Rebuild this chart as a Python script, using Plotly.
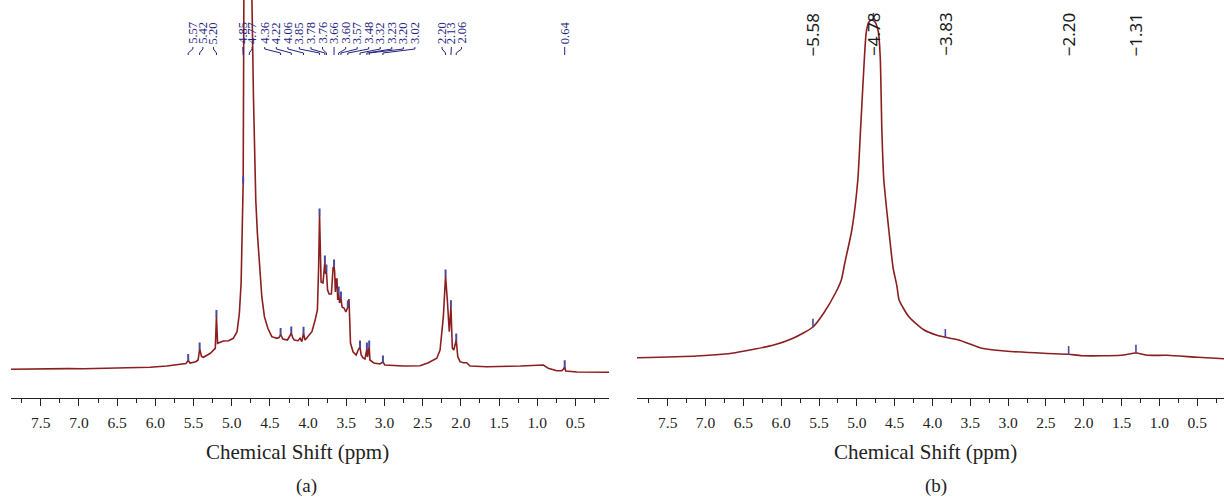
import numpy as np
import plotly.graph_objects as go

# ---------------- data: panel (a) ----------------
A_PPM = [7.89, 7.60, 7.38, 7.29, 7.15, 6.94, 6.50, 6.07, 5.85, 5.68, 5.60, 5.57, 5.545, 5.47, 5.44,
         5.42, 5.395, 5.37, 5.28, 5.215, 5.20, 5.185, 5.11, 5.04, 4.98, 4.93, 4.90, 4.877, 4.862,
         4.85, 4.84, 4.81, 4.79, 4.77, 4.74, 4.715, 4.70, 4.685, 4.664, 4.638, 4.606, 4.572, 4.527,
         4.475, 4.41, 4.38, 4.36, 4.33, 4.27, 4.24, 4.22, 4.20, 4.18, 4.13, 4.105, 4.082, 4.06, 4.04,
         4.00, 3.95, 3.908, 3.878, 3.862, 3.85, 3.840, 3.830, 3.805, 3.78, 3.770, 3.76, 3.745, 3.725,
         3.695, 3.672, 3.666, 3.66, 3.652, 3.643, 3.632, 3.622, 3.612, 3.60, 3.588, 3.57, 3.555,
         3.53, 3.505, 3.48, 3.472, 3.465, 3.455, 3.445, 3.41, 3.37, 3.345, 3.32, 3.305, 3.28, 3.255,
         3.23, 3.222, 3.20, 3.19, 3.14, 3.06, 3.02, 2.995, 2.75, 2.534, 2.425, 2.315, 2.272, 2.229,
         2.20, 2.177, 2.151, 2.13, 2.111, 2.092, 2.06, 2.04, 2.01, 1.967, 1.923, 1.88, 1.66, 1.22,
         0.92, 0.855, 0.745, 0.679, 0.655, 0.64, 0.627, 0.48, 0.06]
A_INT = [28.7, 29.0, 29.3, 30.0, 29.4, 29.3, 29.7, 30.7, 32.0, 33.7, 34.5, 37.5, 35.0, 36.3, 38.0,
         49.0, 41.5, 40.7, 44.7, 49.7, 81.5, 54.7, 57.0, 57.3, 59.7, 66.3, 84.7, 114.7, 164.7,
         215, 420, 520, 500, 520, 420, 300, 230, 198, 164.7, 131.3, 101.3, 81.3, 69.7,
         61.3, 59.7, 60.5, 63.5, 59.0, 58.0, 62.0, 65.0, 60.0, 58.0, 57.3, 59.7, 56.3, 64.7, 58.0,
         61.3, 66.3, 78, 88, 131, 183, 150, 116, 115, 136, 124, 127, 108, 104,
         104, 131, 128, 132, 126, 106, 119, 119, 98, 105, 95, 100, 91,
         90, 86, 91, 99, 99, 78, 55, 46, 43, 48, 51, 43, 40, 39,
         49, 41, 51, 38, 35, 34, 36, 33, 32, 32.3, 35.3, 39.7, 48, 81.3,
         122, 98, 66.3, 91.3, 49.7, 48, 58, 41.3, 36.3, 35.3, 35.3, 32, 31.3, 32,
         33, 29.7, 27.3, 27.3, 29, 31.3, 27, 26, 25.7]
A_PEAKS = [5.57, 5.42, 5.20, 4.85, 4.77, 4.36, 4.22, 4.06, 3.85, 3.78, 3.76, 3.66, 3.60, 3.57,
           3.48, 3.32, 3.23, 3.20, 3.02, 2.20, 2.13, 2.06, 0.64]

# ---------------- data: panel (b) ----------------
B_PPM = [7.906, 7.116, 6.606, 6.098, 5.843, 5.58, 5.437, 5.282, 5.205, 5.159, 5.066, 4.987, 4.951,
         4.90, 4.875, 4.84, 4.80, 4.76, 4.715, 4.69, 4.669, 4.643, 4.577, 4.52, 4.47, 4.441, 4.312,
         4.11, 3.95, 3.83, 3.651, 3.347, 3.042, 2.53, 2.20, 2.024, 1.51, 1.31, 1.155, 0.90, 0.492, 0.146]
B_INT = [40.3, 42.0, 45.3, 53.0, 59.7, 71.0, 85.0, 105.0, 118.0, 135.0, 168.0, 218.0, 268.0,
         340.0, 366.0, 376.0, 378.0, 376.0, 366.0, 340.0, 268.0, 218.0, 168.0, 130.0, 112.0, 98.0, 81.3,
         68.0, 63.0, 60.7, 58.0, 49.7, 47.0, 44.7, 43.7, 42.3, 42.7, 45.0, 42.7, 42.7, 40.7, 39.3]
B_PEAKS = [5.58, 4.78, 3.83, 2.20, 1.31]

# ---------------- layout helpers (label placement, not data) ----------------
A_LABEL_POS = [5.509, 5.378, 5.239, 4.855, 4.733] + [3.66 + (6 - i) * 0.1512 for i in range(14)] \
              + [2.246, 2.124, 1.991, 0.64]

RED = "#8b1f1f"
NAVY = "#23237e"
AX = "#222222"
H_TOP = 398

fig = go.Figure()

# spectra
fig.add_trace(go.Scatter(x=A_PPM, y=A_INT, mode="lines", line=dict(color=RED, width=1.6),
                         xaxis="x", yaxis="y", showlegend=False, hoverinfo="skip"))
fig.add_trace(go.Scatter(x=B_PPM, y=B_INT, mode="lines",
                         line=dict(color=RED, width=1.6, shape="spline", smoothing=0.6),
                         xaxis="x2", yaxis="y2", showlegend=False, hoverinfo="skip"))

# peak-pick markers
a_asc_x, a_asc_y = A_PPM[::-1], A_INT[::-1]
b_asc_x, b_asc_y = B_PPM[::-1], B_INT[::-1]
a_mark_y = [float(np.interp(p, a_asc_x, a_asc_y)) + 3 for p in A_PEAKS]
b_mark_y = [float(np.interp(p, b_asc_x, b_asc_y)) + 4 for p in B_PEAKS]
fig.add_trace(go.Scatter(x=A_PEAKS, y=a_mark_y, mode="markers",
                         marker=dict(symbol="line-ns", size=5, line=dict(width=2, color="#4a4aa0")),
                         xaxis="x", yaxis="y", showlegend=False, hoverinfo="skip"))
fig.add_trace(go.Scatter(x=B_PEAKS, y=b_mark_y, mode="markers",
                         marker=dict(symbol="line-ns", size=6, line=dict(width=1.6, color="#4a4aa0")),
                         xaxis="x2", yaxis="y2", showlegend=False, hoverinfo="skip"))

# connectors for panel (a) labels
cx, cy = [], []
for lp, pk in zip(A_LABEL_POS, A_PEAKS):
    cx += [lp, lp, pk, pk, None]
    cy += [H_TOP - 47, H_TOP - 49, H_TOP - 53, H_TOP - 55, None]
fig.add_trace(go.Scatter(x=cx, y=cy, mode="lines", line=dict(color=NAVY, width=1),
                         xaxis="x", yaxis="y", showlegend=False, hoverinfo="skip", cliponaxis=False))

annotations = []
for lp, pk in zip(A_LABEL_POS, A_PEAKS):
    annotations.append(dict(x=lp, y=H_TOP - 46, xref="x", yref="y", text=f"{pk:.2f}",
                            textangle=-90, showarrow=False, xanchor="center", yanchor="bottom",
                            font=dict(family="Liberation Serif", size=12.5, color=NAVY)))
for pk in B_PEAKS:
    annotations.append(dict(x=pk, y=H_TOP - 58, xref="x2", yref="y2", text=f"\u2212{pk:.2f}",
                            textangle=-90, showarrow=False, xanchor="center", yanchor="bottom",
                            font=dict(family="Noto Sans", size=17, color="#1a1a1a")))

def py(p):
    return (H_TOP - p) / H_TOP

for xc, txt, yp, fs in [(297.6, "Chemical Shift (ppm)", 452, 21), (306, "(a)", 486, 19),
                        (925, "Chemical Shift (ppm)", 452, 21), (936, "(b)", 486, 19)]:
    annotations.append(dict(x=xc / 1224, y=py(yp), xref="paper", yref="paper", text=txt,
                            showarrow=False, xanchor="center", yanchor="middle",
                            font=dict(family="Liberation Serif", size=fs, color=AX)))

xcommon = dict(showline=True, linecolor=AX, linewidth=1.3, ticks="outside", ticklen=7,
               tickwidth=1.3, tickcolor=AX, tick0=0.5, dtick=0.5, tickformat=".1f",
               showgrid=False, zeroline=False, ticklabelstandoff=3,
               tickfont=dict(family="Liberation Serif", size=15.5, color=AX),
               minor=dict(ticks="outside", ticklen=4, tickwidth=1.2, tickcolor=AX,
                          tick0=0.25, dtick=0.25, showgrid=False))

fig.update_layout(
    width=1224, height=500,
    margin=dict(l=0, r=0, t=0, b=102),
    paper_bgcolor="white", plot_bgcolor="white",
    xaxis=dict(domain=[11 / 1224, 609 / 1224], range=[7.89, 0.06], anchor="y", **xcommon),
    xaxis2=dict(domain=[637 / 1224, 1.0], range=[7.906, 0.146], anchor="y2", **xcommon),
    yaxis=dict(domain=[0, 1], range=[0, H_TOP], visible=False, anchor="x"),
    yaxis2=dict(domain=[0, 1], range=[0, H_TOP], visible=False, anchor="x2"),
    annotations=annotations,
    showlegend=False,
)

fig.write_html("out.html")
